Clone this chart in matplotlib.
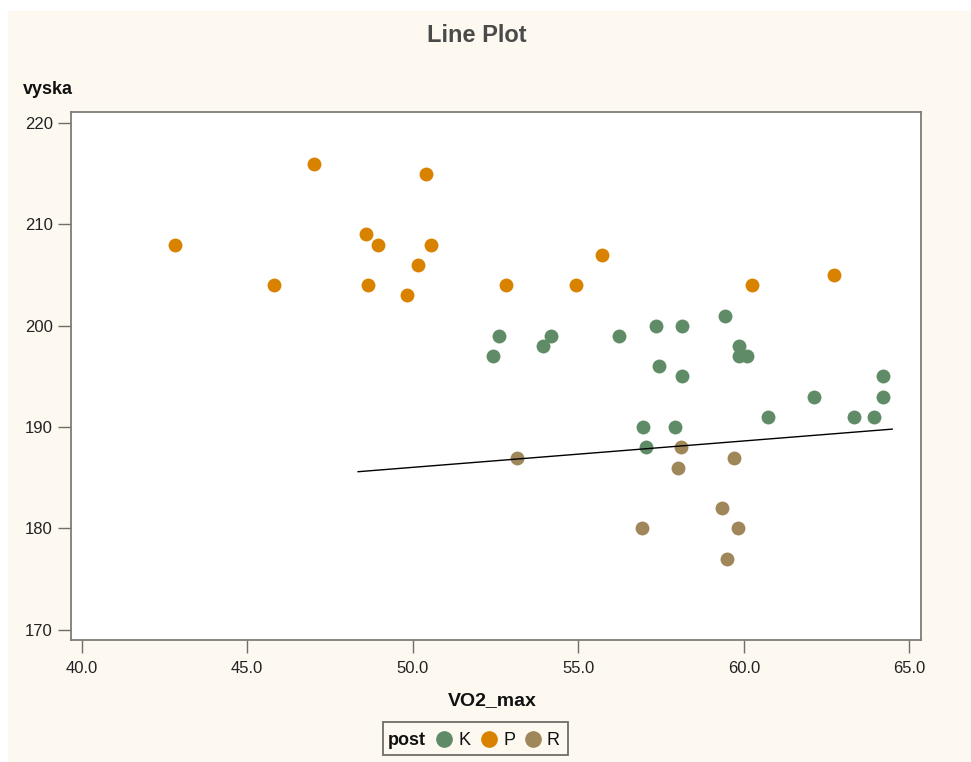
import matplotlib
matplotlib.use("Agg")
import matplotlib.pyplot as plt
from matplotlib.patches import Rectangle
from matplotlib.lines import Line2D

plt.rcParams['font.family'] = ['Liberation Sans', 'DejaVu Sans']

# VO2_max / vyska by post
k_x = [52.61, 52.43, 54.17, 53.94, 56.22, 57.34, 58.14, 59.44, 59.84, 59.84, 60.11,
       57.43, 58.14, 64.21, 62.12, 64.21, 60.73, 63.32, 63.94, 56.94, 57.92, 57.03]
k_y = [199, 197, 199, 198, 199, 200, 200, 201, 198, 197, 197,
       196, 195, 195, 193, 193, 191, 191, 191, 190, 190, 188]

p_x = [42.82, 45.82, 47.03, 48.58, 48.64, 48.95, 49.84, 50.15, 50.40, 50.55,
       52.82, 54.93, 55.72, 60.24, 62.72]
p_y = [208, 204, 216, 209, 204, 208, 203, 206, 215, 208,
       204, 204, 207, 204, 205]

r_x = [53.14, 58.11, 59.70, 58.00, 59.34, 56.93, 59.83, 59.48]
r_y = [187, 188, 187, 186, 182, 180, 180, 177]

line_x = [48.35, 64.48]
line_y = [185.6, 189.8]

groups = ['K', 'P', 'R']
colors = {'K': '#5f8c66', 'P': '#d98200', 'R': '#a0875a'}
series = {'K': (k_x, k_y), 'P': (p_x, p_y), 'R': (r_x, r_y)}

xticks = [40, 45, 50, 55, 60, 65]
yticks = [170, 180, 190, 200, 210, 220]

W, H = 971, 762
fig = plt.figure(figsize=(W / 100, H / 100), dpi=100, facecolor='white')

def fx(px):
    return px / W

def fy(py):
    return 1 - py / H

# cream background panel
fig.add_artist(Rectangle((fx(8), 0), 1 - fx(8), fy(11), transform=fig.transFigure,
                         facecolor='#fdf9f1', edgecolor='none', zorder=-10))

ax = fig.add_axes([fx(71), fy(640), fx(921) - fx(71), fy(112) - fy(640)])
ax.set_facecolor('white')

for g in groups:
    xs, ys = series[g]
    ax.scatter(xs, ys, s=100, color=colors[g], linewidths=0, zorder=2)

ax.plot(line_x, line_y, color='black', lw=1.0, zorder=3)

ax.set_xlim(39.68, 65.35)
ax.set_ylim(169.0, 221.08)
ax.set_xticks(xticks)
ax.set_xticklabels(['%.1f' % v for v in xticks])
ax.set_yticks(yticks)
ax.set_yticklabels([str(v) for v in yticks])

for s in ax.spines.values():
    s.set_color('#7e7e76')
    s.set_linewidth(1.3)
ax.tick_params(axis='both', colors='#6e6e66', length=9.5, width=1.0,
               labelsize=12, labelcolor='#222222')
ax.tick_params(axis='x', pad=5.5)
ax.tick_params(axis='y', pad=3.5)

fig.text(fx(477), fy(35), 'Line Plot', ha='center', va='center',
         fontsize=17, fontweight='bold', color='#4a4a4a')
fig.text(fx(23), fy(94), 'vyska', ha='left', va='baseline',
         fontsize=13, fontweight='bold', color='#111111')
fig.text(fx(492), fy(705), 'VO2_max', ha='center', va='baseline',
         fontsize=14, fontweight='bold', color='#111111')

# legend box
fig.add_artist(Rectangle((fx(383), fy(755)), fx(568) - fx(383), fy(722) - fy(755),
                         transform=fig.transFigure, facecolor='#fdf9f1',
                         edgecolor='#6e6e66', lw=1.3))
fig.text(fx(388), fy(745), 'post', ha='left', va='baseline',
         fontsize=13, fontweight='bold', color='#111111')
leg_pos = {'K': 444, 'P': 489, 'R': 533}
for g in groups:
    cx = leg_pos[g]
    fig.add_artist(Line2D([fx(cx)], [fy(739)], transform=fig.transFigure,
                          marker='o', markersize=11, color=colors[g], lw=0))
    fig.text(fx(cx + 14), fy(745), g, ha='left', va='baseline',
             fontsize=13, color='#111111')

fig.savefig('out.png', dpi=100, facecolor=fig.get_facecolor())
